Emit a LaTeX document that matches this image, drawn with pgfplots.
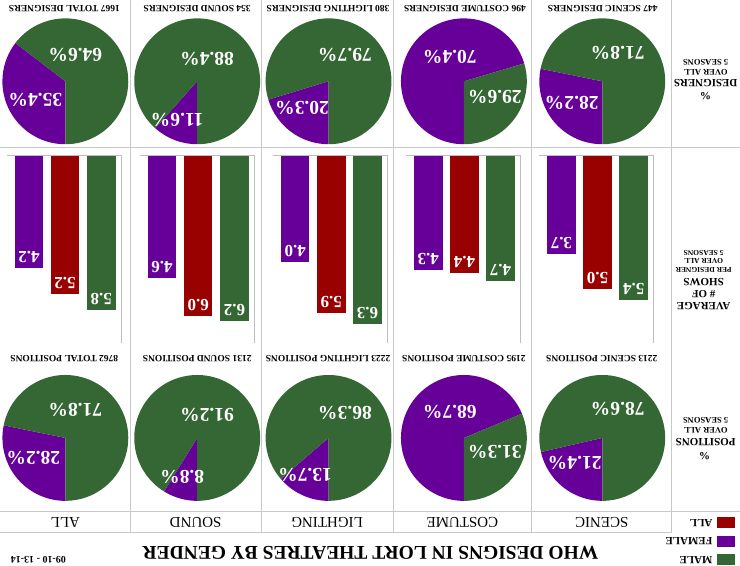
\documentclass[border=0pt]{standalone}
\usepackage{pgfplots}
\pgfplotsset{compat=1.18}
\usepackage{fontspec}
\setmainfont{Liberation Serif}
\definecolor{maleG}{RGB}{52,103,52}
\definecolor{femP}{RGB}{102,0,153}
\definecolor{allR}{RGB}{153,0,0}
\definecolor{gridG}{RGB}{200,200,200}
\definecolor{axG}{RGB}{190,190,190}
\newcommand\fs[1]{\fontsize{#1}{#1}\selectfont}
\tikzset{rt/.style={rotate=180, inner sep=0pt, anchor=center},
  pl/.style={rt, text=white, font=\fs{19.5}\bfseries},
  bl/.style={rt, text=white, font=\fs{17}\bfseries},
  hd/.style={rt, font=\fs{9.5}\bfseries},
  ch/.style={rt, font=\fs{15}},
  rl/.style={rt, font=\fs{11}\bfseries},
  rs/.style={rt, font=\fs{8.5}\bfseries},
  rss/.style={rt, font=\fs{7.5}\bfseries}}
% pie: centre x, centre y (pixels of the picture), female %, male %
\newcommand\pie[4]{%
  \fill[femP] (axis cs:#1,#2) -- ++(270:63pt) arc[start angle=270, end angle={270-#3*3.6}, radius=63pt] -- cycle;
  \fill[maleG] (axis cs:#1,#2) -- ++({270-#3*3.6}:63pt) arc[start angle={270-#3*3.6}, end angle={270-(#3+#4)*3.6}, radius=63pt] -- cycle;}
\pgfplotsset{baraxis/.style={anchor=center, scale only axis, width=114.5pt, height=187.6pt,
  x dir=reverse, y dir=reverse, xmin=-0.5525, xmax=2.61, ymin=0, ymax=7,
  hide axis, clip=false, ybar, bar width=28.5pt, bar shift=0pt}}
% bars: centre x, male, all, female
\newcommand\bars[4]{%
\begin{axis}[baraxis, at={(#1pt,317.2pt)}]
\addplot[fill=maleG, draw=none] coordinates {(0,#2)};
\addplot[fill=allR, draw=none] coordinates {(1,#3)};
\addplot[fill=femP, draw=none] coordinates {(2,#4)};
\draw[axG, line width=0.8pt] (axis cs:-0.5525,0) -- (axis cs:2.61,0);
\draw[axG, line width=0.8pt] (axis cs:-0.5525,0) -- (axis cs:-0.5525,7);
\node[bl] at ([yshift=11pt]axis cs:0,#2) {#2};
\node[bl] at ([yshift=11pt]axis cs:1,#3) {#3};
\node[bl] at ([yshift=11pt]axis cs:2,#4) {#4};
\end{axis}}
\begin{document}
\begin{tikzpicture}
\begin{axis}[at={(370pt,283pt)}, anchor=center, x=1pt, y=1pt, xmin=0, xmax=740, ymin=0, ymax=566,
  y dir=reverse, hide axis, clip=false]
\path (axis cs:0,0) rectangle (axis cs:740,566);
% grid lines
\draw[gridG, line width=0.8pt] (axis cs:130,0) -- (axis cs:130,533);
\draw[gridG, line width=0.8pt] (axis cs:261,0) -- (axis cs:261,533);
\draw[gridG, line width=0.8pt] (axis cs:393,0) -- (axis cs:393,533);
\draw[gridG, line width=0.8pt] (axis cs:532,0) -- (axis cs:532,533);
\draw[gridG, line width=0.8pt] (axis cs:672,0) -- (axis cs:672,533);
\draw[gridG, line width=0.8pt] (axis cs:0,147.5) -- (axis cs:740,147.5);
\draw[gridG, line width=0.8pt] (axis cs:0,512) -- (axis cs:740,512);
\draw[gridG, line width=0.8pt] (axis cs:0,533) -- (axis cs:672,533);
% designers pies (female %, male %)
\pie{65}{81}{35.4}{64.6}
\pie{197}{81}{11.6}{88.4}
\pie{328.5}{81}{20.3}{79.7}
\pie{464}{81}{70.4}{29.6}
\pie{602.5}{81}{28.2}{71.8}
% positions pies
\pie{65}{438}{28.2}{71.8}
\pie{197}{438}{8.8}{91.2}
\pie{328.5}{438}{13.7}{86.3}
\pie{464}{438}{68.7}{31.3}
\pie{602.5}{438}{21.4}{78.6}
% pie labels
\node[pl] at (axis cs:75,55) {64.6\%};
\node[pl] at (axis cs:35,100) {35.4\%};
\node[pl] at (axis cs:207,59) {88.4\%};
\node[pl] at (axis cs:177,120) {11.6\%};
\node[pl] at (axis cs:345,55) {79.7\%};
\node[pl] at (axis cs:302,108) {20.3\%};
\node[pl] at (axis cs:450,57) {70.4\%};
\node[pl] at (axis cs:495,97) {29.6\%};
\node[pl] at (axis cs:618,52) {71.8\%};
\node[pl] at (axis cs:572,103) {28.2\%};
\node[pl] at (axis cs:75,410) {71.8\%};
\node[pl] at (axis cs:33,458) {28.2\%};
\node[pl] at (axis cs:207,415) {91.2\%};
\node[pl] at (axis cs:182,477) {8.8\%};
\node[pl] at (axis cs:345,413) {86.3\%};
\node[pl] at (axis cs:305,475) {13.7\%};
\node[pl] at (axis cs:450,412) {68.7\%};
\node[pl] at (axis cs:495,452) {31.3\%};
\node[pl] at (axis cs:618,409) {78.6\%};
\node[pl] at (axis cs:575,463) {21.4\%};
% pie headers
\node[hd] at (axis cs:64,8.5) {1667 TOTAL DESIGNERS};
\node[hd] at (axis cs:197,8.5) {354 SOUND DESIGNERS};
\node[hd] at (axis cs:328,8.5) {380 LIGHTING DESIGNERS};
\node[hd] at (axis cs:465,8.5) {496 COSTUME DESIGNERS};
\node[hd] at (axis cs:603,8.5) {447 SCENIC DESIGNERS};
\node[hd] at (axis cs:64,359) {8762 TOTAL POSITIONS};
\node[hd] at (axis cs:197,359) {2131 SOUND POSITIONS};
\node[hd] at (axis cs:328,359) {2223 LIGHTING POSITIONS};
\node[hd] at (axis cs:464,359) {2195 COSTUME POSITIONS};
\node[hd] at (axis cs:602,359) {2213 SCENIC POSITIONS};
% column headers
\node[ch] at (axis cs:65,523) {ALL};
\node[ch] at (axis cs:195.5,523) {SOUND};
\node[ch] at (axis cs:327,523) {LIGHTING};
\node[ch] at (axis cs:462.5,523) {COSTUME};
\node[ch] at (axis cs:602,523) {SCENIC};
% row labels
\node[rl] at (axis cs:706,96) {\%};
\node[rl] at (axis cs:706,82.5) {DESIGNERS};
\node[rs] at (axis cs:706,72) {OVER ALL};
\node[rs] at (axis cs:706,62) {5 SEASONS};
\node[rl] at (axis cs:704,306) {AVERAGE};
\node[rl] at (axis cs:704,294) {\# OF};
\node[rl] at (axis cs:704,282) {SHOWS};
\node[rss] at (axis cs:704,269.5) {PER DESIGNER};
\node[rss] at (axis cs:704,261) {OVER ALL};
\node[rss] at (axis cs:704,253) {5 SEASONS};
\node[rl] at (axis cs:705,456) {\%};
\node[rl] at (axis cs:706,442.5) {POSITIONS};
\node[rs] at (axis cs:706,430.5) {OVER ALL};
\node[rs] at (axis cs:706,420) {5 SEASONS};
% legend
\fill[allR] (axis cs:717,517) rectangle (axis cs:735,528);
\fill[femP] (axis cs:717,536) rectangle (axis cs:735,547);
\fill[maleG] (axis cs:717,554) rectangle (axis cs:735,565);
\node[rt, anchor=west, font=\fs{11}\bfseries] at (axis cs:713,523) {ALL};
\node[rt, anchor=west, font=\fs{11}\bfseries] at (axis cs:713,541.5) {FEMALE};
\node[rt, anchor=west, font=\fs{11}\bfseries] at (axis cs:713,560) {MALE};
% title
\node[rt, font=\fs{19.5}\bfseries] at (axis cs:370.5,553.3) {WHO DESIGNS IN LORT THEATRES BY GENDER};
\node[rt, font=\fs{10}\bfseries] at (axis cs:38,560) {09-10 - 13-14};
\end{axis}
% average shows per designer: centre x, male, all, female
\bars{63.75}{5.8}{5.2}{4.2}
\bars{197}{6.2}{6.0}{4.6}
\bars{330.25}{6.3}{5.9}{4.0}
\bars{463.5}{4.7}{4.4}{4.3}
\bars{596.75}{5.4}{5.0}{3.7}
\end{tikzpicture}
\end{document}
